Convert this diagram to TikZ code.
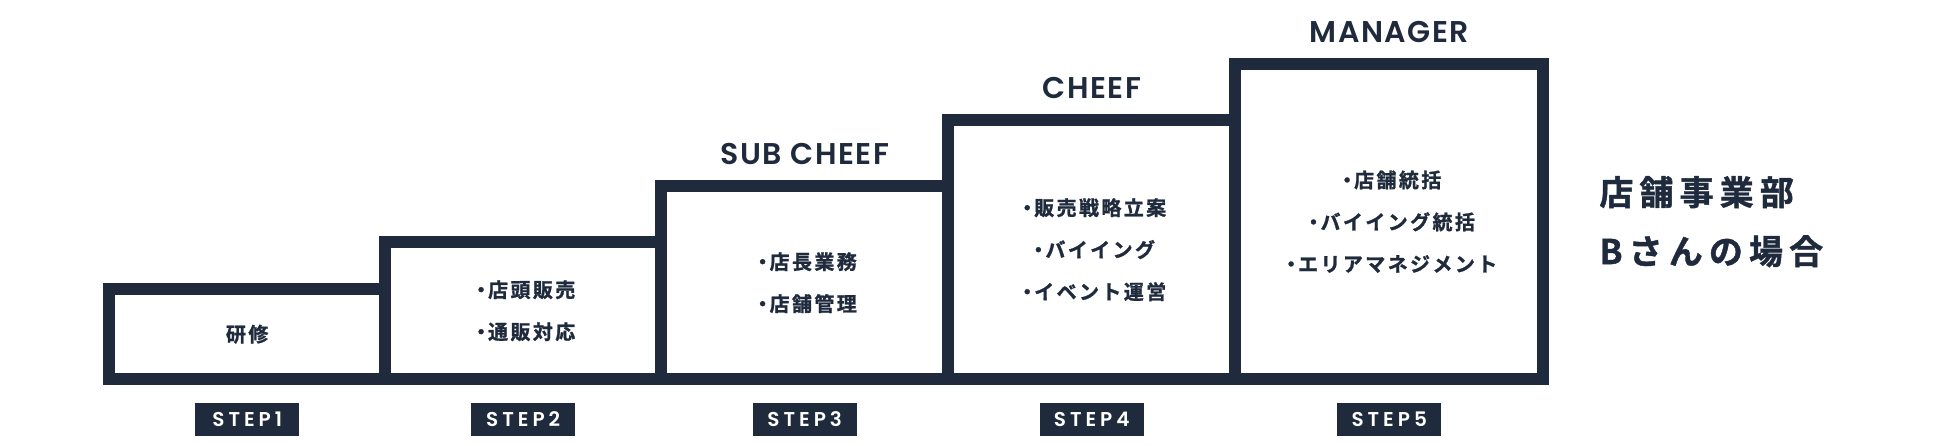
\documentclass[tikz,border=0pt]{standalone}
\usepackage{fontspec}
\setmainfont{Noto Sans CJK JP}[BoldFont={Noto Sans CJK JP Bold}, BoldFeatures={FakeBold=1.2}, LetterSpace=12]
\newfontfamily\rolefont{Poppins}[UprightFont={* SemiBold}, LetterSpace=5]
\newfontfamily\stepfont{Poppins}[UprightFont={* SemiBold}, LetterSpace=20]
\usetikzlibrary{positioning}
\definecolor{navy}{HTML}{1F2B3D}
\newcommand\bul{・\kern-3pt}

\begin{document}
\begin{tikzpicture}[
      x=1pt, y=-1pt,
      stepbox/.style={draw=navy, line width=11.7pt, rectangle, inner sep=0pt, outer sep=0pt,
        anchor=south west, align=center, text=navy, font=\bfseries\fontsize{20}{42}\selectfont},
      steplabel/.style={fill=navy, text=white, minimum width=104pt, minimum height=33pt,
        inner sep=0pt, outer sep=0pt, font=\stepfont\fontsize{20}{20}\selectfont},
      role/.style={text=navy, inner sep=0pt, outer sep=0pt, text height=22pt, text depth=0pt,
        font=\rolefont\fontsize{30}{30}\selectfont}
    ]
      \useasboundingbox (0,0) rectangle (1940,446);
      \node[stepbox, minimum width=276pt, minimum height=90pt] (b1) at (109.2,379.2) {研修};
      \node[stepbox, minimum width=276pt, minimum height=137pt] (b2) at (b1.south east) {\bul 店頭販売\\\bul 通販対応};
      \node[stepbox, minimum width=287pt, minimum height=193pt] (b3) at (b2.south east) {\bul 店長業務\\\bul 店舗管理};
      \node[stepbox, minimum width=287pt, minimum height=259pt] (b4) at (b3.south east) {\bul 販売戦略立案\\\bul バイイング\\\bul イベント運営};
      \node[stepbox, minimum width=308pt, minimum height=315pt] (b5) at (b4.south east) {\bul 店舗統括\\\bul バイイング統括\\\bul エリアマネジメント};

      \node[steplabel, below=23.5pt of b1.south] (s1) {STEP1};
      \node[steplabel, below=23.5pt of b2.south] (s2) {STEP2};
      \node[steplabel, below=23.5pt of b3.south] (s3) {STEP3};
      \node[steplabel, below=23.5pt of b4.south] (s4) {STEP4};
      \node[steplabel, below=23.5pt of b5.south] (s5) {STEP5};

      \node[role, above=22pt of b3.north] (r3) {SUB CHEEF};
      \node[role, above=22pt of b4.north] (r4) {CHEEF};
      \node[role, above=22pt of b5.north] (r5) {MANAGER};

      \node[right=56pt of b5.east, inner sep=0pt, align=left, text=navy,
        font=\bfseries\fontsize{34}{59}\selectfont\addfontfeature{LetterSpace=18}] (dept) {店舗事業部\\Bさんの場合};
    \end{tikzpicture}
\end{document}
